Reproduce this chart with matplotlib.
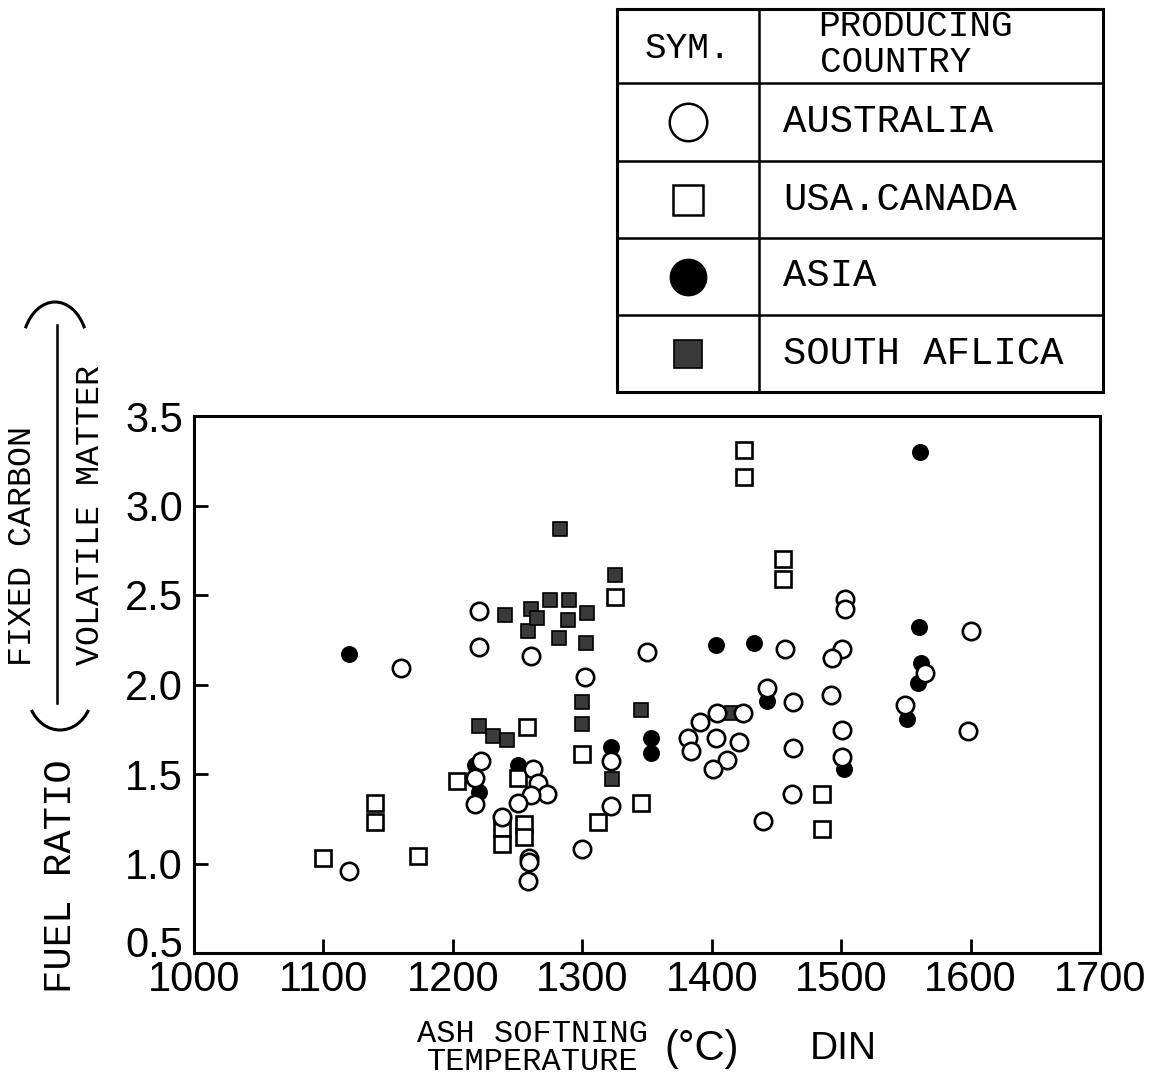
import numpy as np
import matplotlib
matplotlib.use("Agg")
import matplotlib.pyplot as plt
import matplotlib.transforms as mtransforms
from matplotlib.patches import Arc, Rectangle

# ---- data ----
aus_x = [1120, 1160, 1220, 1220, 1222, 1217, 1217, 1238,
         1260, 1350, 1302, 1322, 1322, 1300,
         1262, 1266, 1273, 1260, 1250, 1259, 1259, 1258,
         1443, 1463, 1391, 1404, 1424, 1382, 1384, 1403, 1421, 1412, 1401, 1463, 1462, 1440,
         1457, 1503, 1503, 1600, 1501, 1493, 1565, 1492, 1501, 1501, 1549, 1598]
aus_y = [0.96, 2.09, 2.41, 2.21, 1.57, 1.48, 1.33, 1.26,
         2.16, 2.18, 2.04, 1.57, 1.32, 1.08,
         1.53, 1.45, 1.39, 1.38, 1.34, 1.03, 1.01, 0.90,
         1.98, 1.90, 1.79, 1.84, 1.84, 1.70, 1.63, 1.70, 1.68, 1.58, 1.53, 1.645, 1.39, 1.24,
         2.20, 2.48, 2.42, 2.30, 2.20, 2.15, 2.065, 1.94, 1.745, 1.595, 1.885, 1.74]

usa_x = [1100, 1140, 1140, 1173, 1203, 1257, 1250, 1238, 1238, 1255, 1255,
         1300, 1312, 1345, 1425, 1425, 1455, 1455, 1325, 1485, 1485]
usa_y = [1.03, 1.34, 1.23, 1.04, 1.46, 1.76, 1.48, 1.20, 1.11, 1.22, 1.15,
         1.61, 1.23, 1.34, 3.31, 3.16, 2.70, 2.59, 2.49, 1.39, 1.19]

asia_x = [1120, 1217, 1220, 1250, 1322, 1353, 1353, 1403, 1433, 1443,
          1561, 1560, 1562, 1559, 1502, 1551]
asia_y = [2.17, 1.55, 1.40, 1.55, 1.65, 1.70, 1.62, 2.22, 2.23, 1.91,
          3.30, 2.32, 2.12, 2.01, 1.53, 1.81]

saf_x = [1240, 1220, 1231, 1242, 1283, 1325, 1260, 1275, 1290, 1304,
         1289, 1258, 1282, 1303, 1265, 1300, 1300, 1323, 1345, 1416]
saf_y = [2.39, 1.77, 1.71, 1.69, 2.87, 2.61, 2.42, 2.47, 2.47, 2.40,
         2.36, 2.30, 2.26, 2.23, 2.37, 1.90, 1.78, 1.47, 1.86, 1.84]

legend_labels = ["AUSTRALIA", "USA.CANADA", "ASIA", "SOUTH AFLICA"]
x_ticks = [1000, 1100, 1200, 1300, 1400, 1500, 1600, 1700]
y_ticks = [0.5, 1.0, 1.5, 2.0, 2.5, 3.0, 3.5]

mono = "Liberation Mono"
sans = "Liberation Sans"

W, H = 1157, 1082
fig = plt.figure(figsize=(W / 100, H / 100), dpi=100)

# overlay in pixel coordinates for the table and the y label
ov = fig.add_axes([0, 0, 1, 1])
ov.set_xlim(0, W)
ov.set_ylim(H, 0)
ov.axis("off")

ax = fig.add_axes([194 / W, 1 - 953 / H, (1100 - 194) / W, (953 - 416) / H])

styles = {
    "saf": dict(marker="s", ms=10, mfc="#3a3a3a", mec="black", mew=1.2),
    "asia": dict(marker="o", ms=11, mfc="black", mec="black", mew=1.2),
    "usa": dict(marker="s", ms=12, mfc="white", mec="black", mew=1.9),
    "aus": dict(marker="o", ms=12.5, mfc="white", mec="black", mew=1.9),
}
ax.plot(saf_x, saf_y, ls="none", **styles["saf"])
ax.plot(asia_x, asia_y, ls="none", **styles["asia"])
ax.plot(usa_x, usa_y, ls="none", **styles["usa"])
ax.plot(aus_x, aus_y, ls="none", **styles["aus"])

ax.set_xlim(1000, 1700)
ax.set_ylim(0.5, 3.5)
ax.set_xticks(x_ticks)
ax.set_yticks(y_ticks)
ax.set_xticklabels([str(v) for v in x_ticks], family=sans, fontsize=30)
ax.set_yticklabels([f"{v:.1f}" for v in y_ticks], family=sans, fontsize=30)
ax.tick_params(direction="in", length=10, width=2)
ax.tick_params(axis="x", pad=5)
ax.tick_params(axis="y", pad=8)
for s in ax.spines.values():
    s.set_linewidth(2.2)
# the bottom y label sits a little above its tick, clear of "1000"
lab0 = ax.get_yticklabels()[0]
lab0.set_transform(lab0.get_transform() + mtransforms.ScaledTranslation(0, 8 / 72, fig.dpi_scale_trans))

# y axis label: FUEL RATIO ( FIXED CARBON / VOLATILE MATTER )
ov.text(61, 876, "FUEL RATIO", rotation=90, ha="center", va="center",
        family=mono, fontsize=28)
ov.text(23, 546, "FIXED CARBON", rotation=90, ha="center", va="center",
        family=mono, fontsize=24)
ov.text(91, 515, "VOLATILE MATTER", rotation=90, ha="center", va="center",
        family=mono, fontsize=24)
ov.plot([57, 57], [325, 703], color="black", lw=1.8)
ov.add_patch(Arc((55, 349), 66, 94, theta1=215, theta2=325, lw=2.2, color="black"))
ov.add_patch(Arc((60, 690), 66, 80, theta1=35, theta2=145, lw=2.2, color="black"))

# x axis label
ov.text(648, 1048, "ASH SOFTNING\nTEMPERATURE", ha="right", va="center",
        multialignment="center", linespacing=0.9, family=mono, fontsize=23)
ov.text(702, 1049, "(°C)", ha="center", va="center", family=sans, fontsize=30)
ov.text(843, 1049, "DIN", ha="center", va="center", family=sans, fontsize=28)

# legend table
tl, tr, tt, tb, split = 617, 1103, 9, 392, 759
rows = [83, 161, 238, 315]
ov.add_patch(Rectangle((tl, tt), tr - tl, tb - tt, fill=False, lw=2.2, ec="black"))
ov.plot([split, split], [tt, tb], color="black", lw=1.8)
for r in rows:
    ov.plot([tl, tr], [r, r], color="black", lw=1.8)
ov.text(688, 48, "SYM.", ha="center", va="center", family=mono, fontsize=26)
ov.text(818, 26, "PRODUCING", ha="left", va="center", family=mono, fontsize=26)
ov.text(820, 63, "COUNTRY", ha="left", va="center", family=mono, fontsize=26)

big = {
    "aus": dict(marker="o", ms=27, mfc="white", mec="black", mew=1.8),
    "usa": dict(marker="s", ms=22, mfc="white", mec="black", mew=1.8),
    "asia": dict(marker="o", ms=26, mfc="black", mec="black", mew=1.2),
    "saf": dict(marker="s", ms=20, mfc="#3a3a3a", mec="black", mew=1.2),
}
centers = [(rows[i] + (rows[i + 1] if i + 1 < len(rows) else tb)) / 2 for i in range(len(rows))]
for key, lab, cy in zip(["aus", "usa", "asia", "saf"], legend_labels, centers):
    ov.plot([688], [cy], ls="none", **big[key])
    ov.text(783, cy, lab, ha="left", va="center", family=mono, fontsize=28)

fig.savefig("out.png", dpi=100)
